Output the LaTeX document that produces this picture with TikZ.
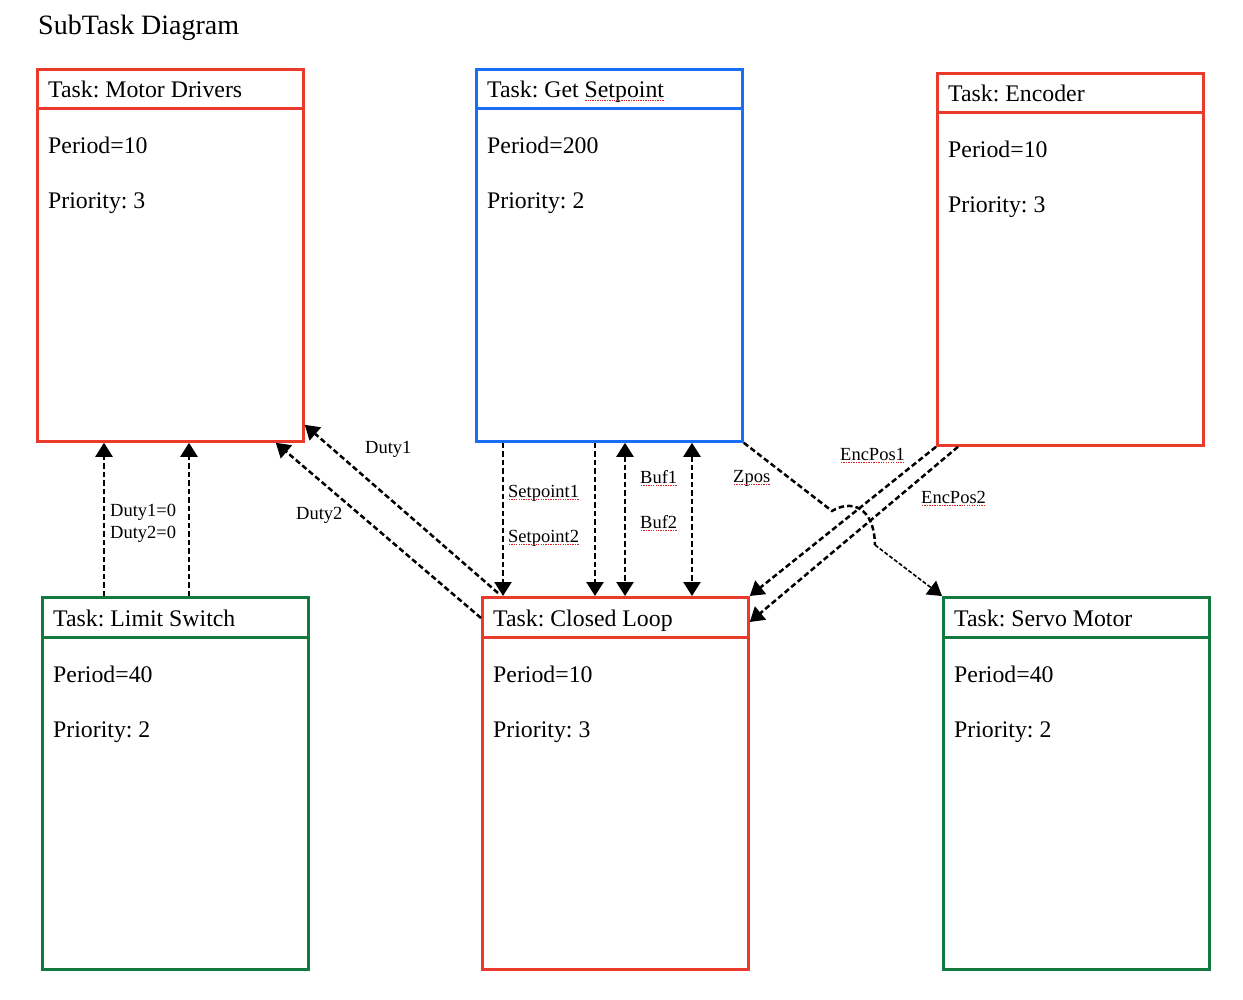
\documentclass[tikz,border=0pt]{standalone}
\usepackage{fontspec}
\setmainfont{Liberation Serif}
\usetikzlibrary{arrows.meta,calc}
\definecolor{tred}{HTML}{EA3A2C}
\definecolor{tblue}{HTML}{1A6EF5}
\definecolor{tgreen}{HTML}{137A3F}
\definecolor{spellred}{HTML}{E02020}
\newcommand\spchk[1]{\setbox0=\hbox{#1}\rlap{#1}\raisebox{-3pt}[0pt][0pt]{\hbox to \wd0{\color{spellred}\xleaders\hbox to 2.4pt{\hss\rule{1.4pt}{1.4pt}\hss}\hfill}}}
\frenchspacing
\begin{document}
\begin{tikzpicture}[x=1pt,y=-1pt,
  taskbox/.style={draw=#1,line width=2.8pt,minimum width=266pt,minimum height=372pt,inner sep=0pt,anchor=north west},
  hdr/.style={line width=3pt},
  big/.style={font=\fontsize{23.8}{26}\selectfont,anchor=base west,inner sep=0pt},
  lbl/.style={font=\fontsize{18.5}{21}\selectfont,anchor=base west,inner sep=0pt},
  conn/.style={line width=2.5pt,dash pattern=on 5.5pt off 3pt,-{Triangle[length=14pt,width=17pt]}},
  dconn/.style={conn,{Triangle[length=14pt,width=17pt]}-{Triangle[length=14pt,width=17pt]}},
]
\useasboundingbox (0,0) rectangle (1243,1000);
\node[font=\fontsize{28}{32}\selectfont,anchor=base west,inner sep=0pt] (title) at (38,35) {SubTask Diagram};

% boxes
\node[taskbox=tred] (md) at (36,68) {};
\node[taskbox=tblue] (gs) at (475,68) {};
\node[taskbox=tred] (en) at (936,72) {};
\node[taskbox=tgreen] (ls) at (41,596) {};
\node[taskbox=tred] (cl) at (481,596) {};
\node[taskbox=tgreen] (sm) at (942,596) {};

% headers and texts
\foreach \b/\c/\t/\p/\q in {md/tred/Motor Drivers/10/3, gs/tblue/Get \spchk{Setpoint}/200/2, en/tred/Encoder/10/3, ls/tgreen/Limit Switch/40/2, cl/tred/Closed Loop/10/3, sm/tgreen/Servo Motor/40/2}{
  \draw[hdr,\c] ($(\b.north west)+(0,41)$) -- ($(\b.north east)+(0,41)$);
  \node[big] (\b-t) at ($(\b.north west)+(12,30)$) {Task: \t};
  \node[big] (\b-p) at ($(\b.north west)+(12,86)$) {Period=\p};
  \node[big] (\b-q) at ($(\b.north west)+(12,141)$) {Priority: \q};
}

% Limit switch -> motor drivers
\draw[conn] ($(ls.north west)+(63,0)$) -- ($(md.south west)+(68,0)$);
\draw[conn] ($(ls.north west)+(148,0)$) -- ($(md.south west)+(153,0)$);
\node[lbl] (d10) at (110,516) {Duty1=0};
\node[lbl] (d20) at (110,538) {Duty2=0};

% Closed loop -> motor drivers
\draw[conn] ($(cl.north west)+(17,-3)$) -- ($(md.south east)+(0,-18)$);
\draw[conn] ($(cl.north west)+(0,22)$) -- ($(md.south east)+(-29,0)$);
\node[lbl] (d1) at (365,453) {Duty1};
\node[lbl] (d2) at (296,519) {Duty2};

% Get setpoint <-> closed loop
\draw[conn] ($(gs.south west)+(28,0)$) -- ($(cl.north west)+(22,0)$);
\draw[conn] ($(gs.south west)+(120,0)$) -- ($(cl.north west)+(114,0)$);
\draw[dconn] ($(gs.south west)+(150,0)$) -- ($(cl.north west)+(144,0)$);
\draw[dconn] ($(gs.south west)+(217,0)$) -- ($(cl.north west)+(211,0)$);
\node[lbl] (sp1) at (508,497) {\spchk{Setpoint1}};
\node[lbl] (sp2) at (508,542) {\spchk{Setpoint2}};
\node[lbl] (b1) at (640,483) {\spchk{Buf1}};
\node[lbl] (b2) at (640,528) {\spchk{Buf2}};

% Zpos -> servo motor
\draw[line width=2.5pt,dash pattern=on 5.5pt off 3pt] (gs.south east) -- (832,511) .. controls (850,500) and (874,505) .. (875,545);
\draw[line width=1.6pt,dash pattern=on 4pt off 2pt,-{Triangle[length=14pt,width=17pt]}] (875,545) -- (sm.north west);
\node[lbl] (zp) at (733,482) {\spchk{Zpos}};

% Encoder -> closed loop
\draw[conn] (en.south west) -- (cl.north east);
\draw[conn] ($(en.south west)+(22,0)$) -- ($(cl.north east)+(0,26)$);
\node[lbl] (e1) at (840,460) {\spchk{EncPos1}};
\node[lbl] (e2) at (921,503) {\spchk{EncPos2}};
\end{tikzpicture}
\end{document}
